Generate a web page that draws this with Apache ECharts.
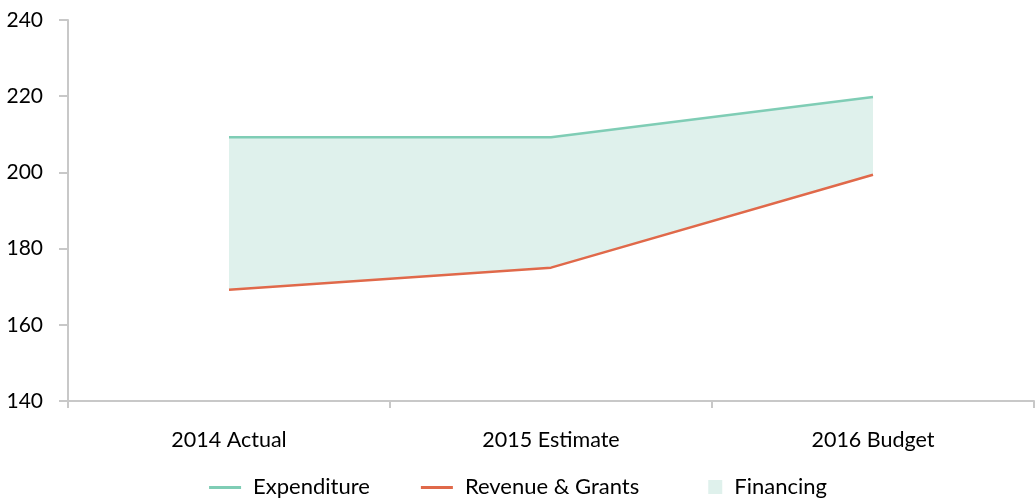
<!DOCTYPE html>
<html>
<head>
<meta charset="utf-8">
<script src="https://cdn.jsdelivr.net/npm/echarts@6/dist/echarts.min.js"></script>
<style>
  html, body { margin: 0; padding: 0; background: #fff; }
  #chart { width: 1036px; height: 500px; }
</style>
</head>
<body>
<div id="chart"></div>
<script>
// data
var categories = ["2014 Actual", "2015 Estimate", "2016 Budget"];
var expenditure = [209.2, 209.2, 219.8];
var revenue = [169.2, 175.0, 199.4];
var yTicks = [140, 160, 180, 200, 220, 240];

// financing band = gap between the two lines
var financing = expenditure.map(function (v, i) { return +(v - revenue[i]).toFixed(1); });

var chart = echarts.init(document.getElementById("chart"));
var font = "Lato, 'Open Sans', sans-serif";

var option = {
  animation: false,
  grid: { left: 68, right: 2, top: 20, bottom: 99, containLabel: false, outerBoundsMode: "none" },
  legend: {
    bottom: -3,
    left: "center",
    itemGap: 51,
    itemWidth: 32,
    itemHeight: 14,
    textStyle: { fontFamily: font, fontSize: 22, color: "#000", padding: [0, 0, 0, 7] },
    data: [
      { name: "Expenditure", icon: "path://M0,6 L32,6 L32,9 L0,9 Z M0,0 M32,14" },
      { name: "Revenue & Grants", icon: "path://M0,6 L32,6 L32,9 L0,9 Z M0,0 M32,14" },
      // small square sitting at the right end of the icon box
      { name: "Financing", icon: "path://M0,0 M18,0 L32,0 L32,14 L18,14 Z", itemStyle: { color: "#dff1ec" } }
    ]
  },
  xAxis: {
    type: "category",
    data: categories,
    boundaryGap: true,
    axisLine: { lineStyle: { color: "#c8c8c8", width: 2 } },
    axisTick: { show: true, length: 7, lineStyle: { color: "#c8c8c8", width: 2 } },
    axisLabel: { fontFamily: font, fontSize: 21.5, color: "#000", margin: 28 }
  },
  yAxis: {
    type: "value",
    min: yTicks[0],
    max: yTicks[yTicks.length - 1],
    interval: 20,
    splitLine: { show: false },
    axisLine: { show: true, lineStyle: { color: "#c8c8c8", width: 2 } },
    axisTick: { show: true, length: 9, lineStyle: { color: "#c8c8c8", width: 2 } },
    axisLabel: { fontFamily: font, fontSize: 21, color: "#000", margin: 25 }
  },
  series: [
    {
      name: "base",
      type: "line",
      stack: "band",
      data: revenue,
      symbol: "none",
      lineStyle: { opacity: 0 },
      silent: true
    },
    {
      name: "Financing",
      type: "line",
      stack: "band",
      data: financing,
      symbol: "none",
      itemStyle: { color: "#dff1ec" },
      lineStyle: { opacity: 0 },
      areaStyle: { color: "#dff1ec", opacity: 1 }
    },
    {
      name: "Expenditure",
      type: "line",
      data: expenditure,
      symbol: "none",
      itemStyle: { color: "#7fcdb5" },
      lineStyle: { color: "#7fcdb5", width: 2.5 }
    },
    {
      name: "Revenue & Grants",
      type: "line",
      data: revenue,
      symbol: "none",
      itemStyle: { color: "#e0694a" },
      lineStyle: { color: "#e0694a", width: 2.5 }
    }
  ]
};

chart.setOption(option);
</script>
</body>
</html>
